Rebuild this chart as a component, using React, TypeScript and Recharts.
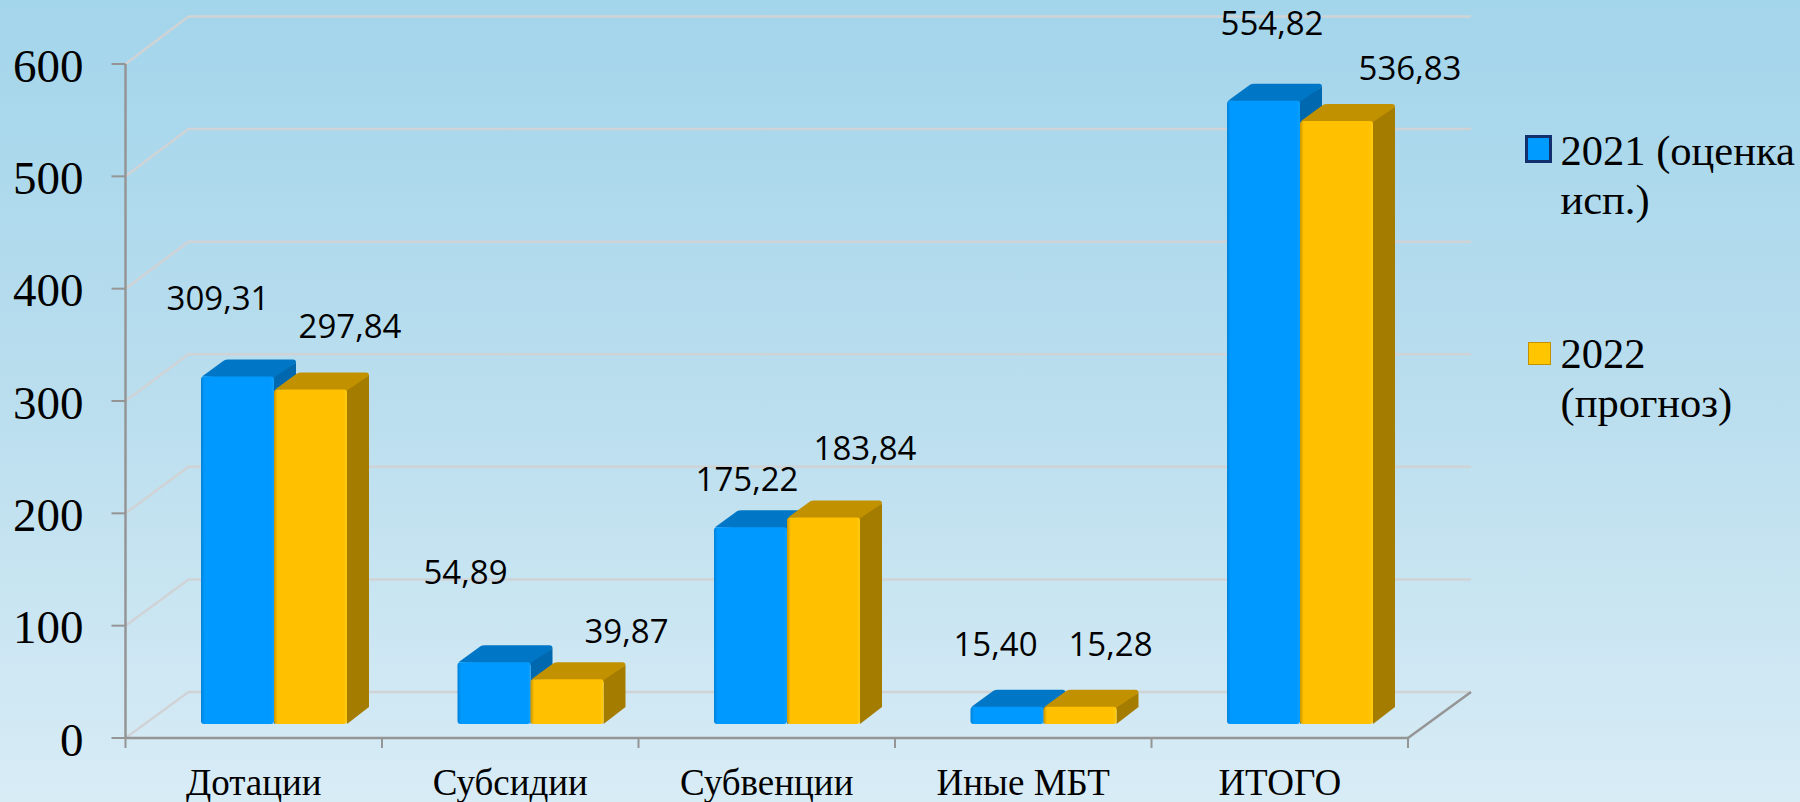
import React from "react";
import { BarChart, Bar, XAxis, YAxis, CartesianGrid, Legend, LabelList } from "recharts";

const categories = ["Дотации", "Субсидии", "Субвенции", "Иные МБТ", "ИТОГО"];
const values2021 = [309.31, 54.89, 175.22, 15.4, 554.82];
const values2022 = [297.84, 39.87, 183.84, 15.28, 536.83];
const yTicks = [0, 100, 200, 300, 400, 500, 600];
const seriesNames = ["2021 (оценка исп.)", "2022 (прогноз)"];

// Manually placed data labels, as in the source slide (offset from the bar's top centre).
const labelOffsets2021 = [[1, -81], [-8, -92], [17, -50], [9, -65], [29, -80]];
const labelOffsets2022 = [[60, -65], [80, -50], [62, -71.5], [51, -65], [94, -55]];

const W = 1800;
const H = 802;
const PLOT_LEFT = 125.5;
const PLOT_RIGHT = 1408;
const PLOT_TOP = 64;
const PLOT_BOTTOM = 738;
const LEGEND_W = 276;
const BAND = (PLOT_RIGHT - PLOT_LEFT) / categories.length;
const WALL_DX = 63;
const WALL_DY = -47.5;
const BAR_SHIFT_X = 20.5;
const BAR_SHIFT_Y = -14;
const DEPTH_X = 22;
const DEPTH_Y = -17;
const AXIS = "#959595";
const GRID = "#D0D3D6";
const SERIF = "'Liberation Serif', 'Times New Roman', serif";

const rows = categories.map((name, i) => ({ name, a: values2021[i], b: values2022[i] }));

const blue = { front: "url(#frontBlue)", top: "#0077C6", side: "#0068AE" };
const gold = { front: "url(#frontGold)", top: "#C29100", side: "#A47C00" };

function Bar3D(props: any) {
  const { x, y, width, height, colors } = props;
  const l = x + BAR_SHIFT_X;
  const r = l + width;
  const t = y + BAR_SHIFT_Y;
  const b = t + height;
  const rr = 3;
  return (
    <g>
      <path
        d={`M${l + 1} ${t} L${l - DEPTH_Y * 1.35} ${t + DEPTH_Y + 1} Q${l - DEPTH_Y * 1.45} ${t + DEPTH_Y} ${l - DEPTH_Y * 1.6} ${t + DEPTH_Y}
            L${r + DEPTH_X - rr} ${t + DEPTH_Y} Q${r + DEPTH_X} ${t + DEPTH_Y} ${r + DEPTH_X} ${t + DEPTH_Y + rr} L${r} ${t + 3} Z`}
        fill={colors.top}
      />
      <path
        d={`M${r} ${t + 1} L${r + DEPTH_X} ${t + DEPTH_Y + 3} L${r + DEPTH_X} ${b + DEPTH_Y} L${r} ${b} Z`}
        fill={colors.side}
      />
      <path
        d={`M${l} ${b - rr} L${l} ${t + rr} Q${l} ${t} ${l + rr} ${t} L${r - rr} ${t} Q${r} ${t} ${r} ${t + rr}
            L${r} ${b - rr} Q${r} ${b} ${r - rr} ${b} L${l + rr} ${b} Q${l} ${b} ${l} ${b - rr} Z`}
        fill={colors.front}
      />
    </g>
  );
}

const bar2021 = (p: any) => <Bar3D {...p} colors={blue} />;
const bar2022 = (p: any) => <Bar3D {...p} colors={gold} />;

function gridLine(p: any) {
  const { x1, y1, x2 } = p;
  const isFloor = y1 >= PLOT_BOTTOM - 0.5;
  const backY = y1 + WALL_DY + ((y1 - PLOT_TOP) / (PLOT_BOTTOM - PLOT_TOP)) * 1.5;
  return (
    <g key={`g${y1}`}>
      <polyline
        points={`${x1},${y1} ${x1 + WALL_DX},${backY} ${x2 + WALL_DX},${backY}`}
        fill="none"
        stroke={GRID}
        strokeWidth={2.5}
      />
      {isFloor && (
        <line x1={x2} y1={y1} x2={x2 + WALL_DX} y2={backY} stroke={AXIS} strokeWidth={2.5} />
      )}
    </g>
  );
}

function CategoryTick(props: any) {
  const { x, payload, index } = props;
  const left = x - BAND / 2;
  return (
    <g>
      <line x1={left} y1={PLOT_BOTTOM} x2={left} y2={PLOT_BOTTOM + 10} stroke={AXIS} strokeWidth={2} />
      {index === categories.length - 1 && (
        <line x1={left + BAND} y1={PLOT_BOTTOM} x2={left + BAND} y2={PLOT_BOTTOM + 10} stroke={AXIS} strokeWidth={2} />
      )}
      <text x={x} y={PLOT_BOTTOM + 57} textAnchor="middle" fontFamily={SERIF} fontSize={37} fill="#000">
        {payload.value}
      </text>
    </g>
  );
}

const makeLabel = (offsets: number[][]) => (p: any) => {
  const { x, y, width, value, index } = p;
  const [dx, dy] = offsets[index];
  return (
    <text
      x={x + width / 2 + dx}
      y={y + dy}
      textAnchor="middle"
      fontFamily="'Open Sans', sans-serif"
      fontSize={33}
      fill="#000"
    >
      {Number(value).toFixed(2).replace(".", ",")}
    </text>
  );
};

function LegendContent(props: any) {
  const items = props.payload || [];
  const swatches = [
    { left: 0.5, top: 9, width: 27, height: 28, background: "#009BFF", border: "3px solid #12306E" },
    { left: 3.5, top: 13, width: 23, height: 23, background: "#FFC600", border: "1.5px solid #C29100" },
  ];
  return (
    <div style={{ position: "relative", width: LEGEND_W, height: 400 }}>
      {items.map((it: any, i: number) => (
        <div key={it.value} style={{ position: "absolute", left: 0, top: i * 203 }}>
          <div style={{ position: "absolute", boxSizing: "border-box", ...swatches[i] }} />
          <div
            style={{
              position: "absolute",
              left: 36.5,
              top: 0,
              width: 245,
              fontFamily: SERIF,
              fontSize: 42.5,
              lineHeight: "49px",
              color: "#000",
            }}
          >
            {it.value}
          </div>
        </div>
      ))}
    </div>
  );
}

export default function App() {
  return (
    <div
      style={{
        position: "absolute",
        left: 0,
        top: 0,
        width: W,
        height: H,
        overflow: "hidden",
        background: "linear-gradient(180deg, #A3D5EB 0%, #BADEEE 50%, #D8ECF6 100%)",
      }}
    >
      <BarChart
        width={W}
        height={H}
        data={rows}
        barSize={73}
        barGap={0}
        margin={{ top: PLOT_TOP, right: W - PLOT_RIGHT - LEGEND_W, bottom: 0, left: 0 }}
      >
        <defs>
          <linearGradient id="frontBlue" x1="0" y1="0" x2="1" y2="0">
            <stop offset="0" stopColor="#0082D8" />
            <stop offset="0.05" stopColor="#0099FF" />
            <stop offset="0.95" stopColor="#0099FF" />
            <stop offset="1" stopColor="#0E9FFF" />
          </linearGradient>
          <linearGradient id="frontGold" x1="0" y1="0" x2="1" y2="0">
            <stop offset="0" stopColor="#C79600" />
            <stop offset="0.05" stopColor="#FFC000" />
            <stop offset="0.95" stopColor="#FFC000" />
            <stop offset="1" stopColor="#FFCC14" />
          </linearGradient>
        </defs>
        <CartesianGrid vertical={false} horizontal={gridLine} stroke={GRID} />
        <XAxis
          dataKey="name"
          height={H - PLOT_BOTTOM}
          interval={0}
          axisLine={{ stroke: AXIS, strokeWidth: 2.5 }}
          tickLine={false}
          tick={<CategoryTick />}
        />
        <YAxis
          width={PLOT_LEFT}
          domain={[0, 600]}
          ticks={yTicks}
          interval={0}
          axisLine={{ stroke: AXIS, strokeWidth: 2.5 }}
          tickLine={{ stroke: AXIS, strokeWidth: 2 }}
          tickSize={14}
          tickMargin={28}
          tick={{ fontFamily: SERIF, fontSize: 47, fill: "#000", dy: 1 }}
        />
        <Legend
          layout="vertical"
          align="right"
          verticalAlign="top"
          width={LEGEND_W}
          content={<LegendContent />}
          wrapperStyle={{ left: 1524, top: 126, width: LEGEND_W }}
        />
        <Bar dataKey="a" name={seriesNames[0]} fill="#0099FF" shape={bar2021} isAnimationActive={false}>
          <LabelList dataKey="a" content={makeLabel(labelOffsets2021)} />
        </Bar>
        <Bar dataKey="b" name={seriesNames[1]} fill="#FFC000" shape={bar2022} isAnimationActive={false}>
          <LabelList dataKey="b" content={makeLabel(labelOffsets2022)} />
        </Bar>
      </BarChart>
    </div>
  );
}
